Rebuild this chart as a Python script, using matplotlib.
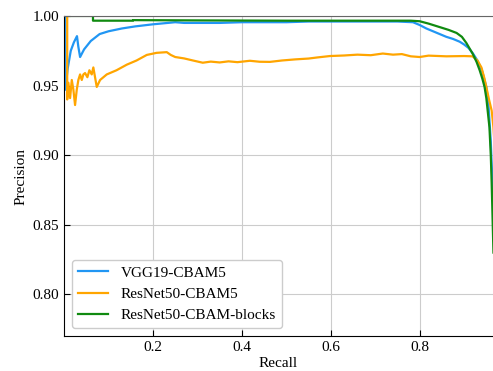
import matplotlib
matplotlib.use("Agg")
import matplotlib.pyplot as plt

plt.rcParams['font.family'] = ['Liberation Serif', 'DejaVu Serif']

# VGG19-CBAM5
vgg_recall = [0.0, 0.002, 0.003, 0.008, 0.015, 0.022, 0.029, 0.032, 0.036, 0.045,
              0.06, 0.08, 0.1, 0.13, 0.16, 0.2, 0.25, 0.27, 0.3, 0.35, 0.4, 0.45, 0.5,
              0.55, 0.6, 0.65, 0.7, 0.75, 0.785, 0.8, 0.815, 0.83, 0.845, 0.86,
              0.875, 0.89, 0.9, 0.91, 0.92, 0.93, 0.94, 0.95, 0.955, 0.96, 0.965, 0.97]
vgg_prec = [1.0, 1.0, 0.947, 0.962, 0.975, 0.981, 0.9855, 0.978, 0.9705, 0.976,
            0.982, 0.987, 0.989, 0.991, 0.9925, 0.994, 0.9955, 0.995, 0.995, 0.995,
            0.9955, 0.9955, 0.9955, 0.996, 0.996, 0.996, 0.996, 0.996, 0.9955, 0.9935,
            0.991, 0.989, 0.987, 0.985, 0.9835, 0.9815, 0.9795, 0.977, 0.973, 0.968,
            0.961, 0.949, 0.935, 0.91, 0.87, 0.8]

# ResNet50-CBAM5
res_recall = [0.007, 0.007, 0.0097, 0.0135, 0.0173, 0.0209, 0.0247, 0.0285, 0.0321,
              0.036, 0.0398, 0.0434, 0.0472, 0.0524, 0.0569, 0.0622, 0.0658, 0.0735,
              0.081, 0.096, 0.118, 0.141, 0.163, 0.186, 0.208, 0.231, 0.24, 0.25,
              0.27, 0.29, 0.312, 0.33, 0.35, 0.37, 0.39, 0.418, 0.44, 0.463, 0.49,
              0.52, 0.55, 0.57, 0.598, 0.63, 0.66, 0.69, 0.717, 0.74, 0.76, 0.78,
              0.8, 0.82, 0.86, 0.9, 0.919, 0.93, 0.939, 0.945, 0.95, 0.956, 0.962,
              0.966, 0.97]
res_prec = [1.0, 0.94, 0.952, 0.941, 0.954, 0.947, 0.936, 0.947, 0.954, 0.958,
            0.954, 0.958, 0.959, 0.956, 0.961, 0.958, 0.963, 0.949, 0.954, 0.958,
            0.961, 0.965, 0.968, 0.972, 0.9735, 0.974, 0.972, 0.9705, 0.9695, 0.968,
            0.9664, 0.9672, 0.9666, 0.9674, 0.9668, 0.9678, 0.9671, 0.967, 0.968,
            0.9688, 0.9694, 0.9702, 0.9712, 0.9716, 0.9722, 0.9718, 0.973, 0.9722,
            0.9726, 0.971, 0.9705, 0.9715, 0.971, 0.9712, 0.971, 0.968, 0.963, 0.956,
            0.949, 0.94, 0.932, 0.92, 0.9]

# ResNet50-CBAM-blocks
blk_recall = [0.0, 0.065, 0.065, 0.155, 0.155, 0.3, 0.5, 0.7, 0.78, 0.8, 0.82,
              0.845, 0.865, 0.883, 0.895, 0.905, 0.919, 0.928, 0.935, 0.941, 0.946,
              0.95, 0.953, 0.957, 0.96, 0.962, 0.966]
blk_prec = [1.0, 1.0, 0.9966, 0.9966, 0.997, 0.9968, 0.9966, 0.9966, 0.9966, 0.9962,
            0.9945, 0.992, 0.990, 0.9878, 0.985, 0.9806, 0.973, 0.967, 0.961, 0.955,
            0.949, 0.941, 0.932, 0.92, 0.90, 0.88, 0.83]

fig = plt.figure(figsize=(4.93, 3.71), dpi=100)
ax = fig.add_axes([0.13, 0.094, 0.87, 0.863])

ax.plot(vgg_recall, vgg_prec, color='#2196F3', lw=1.6, label='VGG19-CBAM5')
ax.plot(res_recall, res_prec, color='#FFA500', lw=1.6, label='ResNet50-CBAM5')
ax.plot(blk_recall, blk_prec, color='#108A10', lw=1.6, label='ResNet50-CBAM-blocks')

ax.set_xlim(0, 0.965)
ax.set_ylim(0.77, 1.0)
ax.set_xticks([0.2, 0.4, 0.6, 0.8])
ax.set_yticks([0.80, 0.85, 0.90, 0.95, 1.00])
ax.set_yticklabels(['0.80', '0.85', '0.90', '0.95', '1.00'])
ax.tick_params(direction='in', length=4, labelsize=11)
ax.grid(True, color='#cccccc', lw=0.8)

ax.spines['right'].set_visible(False)
ax.spines['top'].set_color('#666666')

ax.set_xlabel('Recall', fontsize=11, labelpad=2)
ax.set_ylabel('Precision', fontsize=11)

ax.legend(loc='lower left', fontsize=11, framealpha=1, edgecolor='#cccccc',
          borderaxespad=0.5)

plt.savefig('out.png', dpi=100)
